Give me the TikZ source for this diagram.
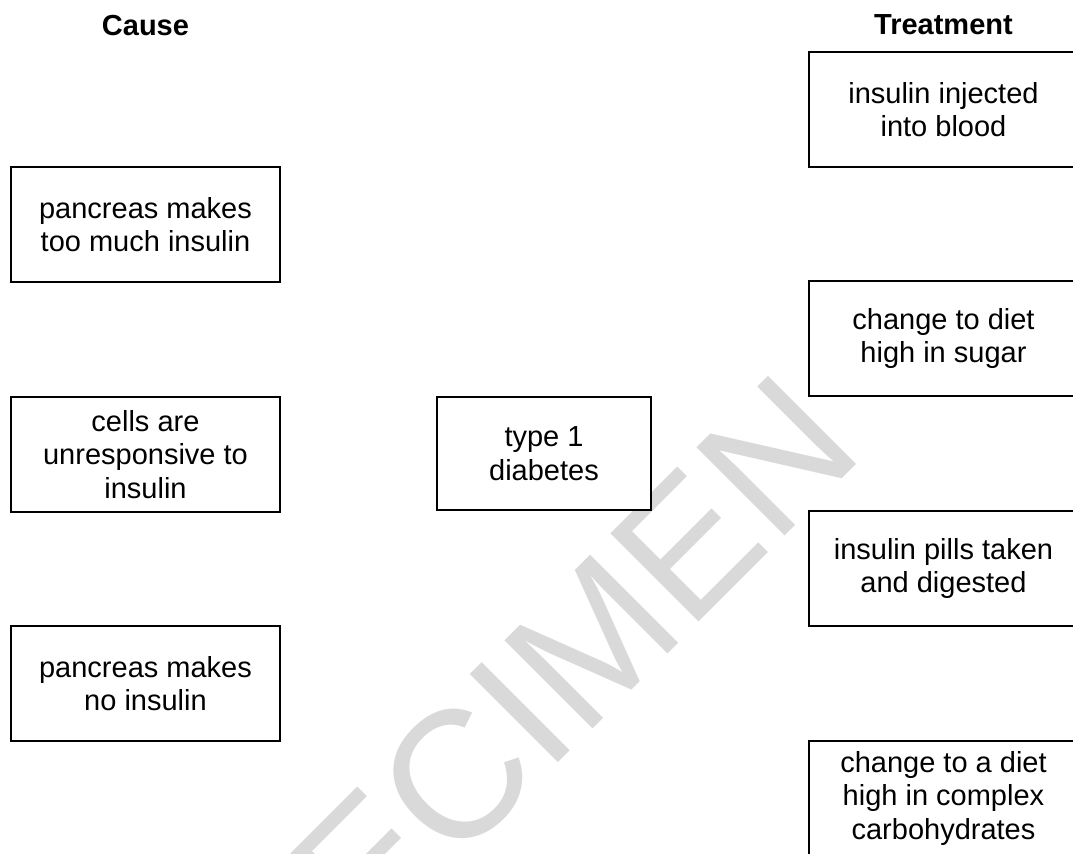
\documentclass[tikz,border=0pt]{standalone}
\usepackage{fontspec}
\setmainfont{Liberation Sans}
\usepackage{tikz}

\begin{document}
\begin{tikzpicture}[scale=1.0, font=\fontsize{12}{13.8}\selectfont,
    card/.style={draw, line width=1.1pt, fill=white, align=center,
      minimum width=3.912cm, minimum height=1.673cm, inner sep=0pt},
    heading/.style={font=\fontsize{12}{13.8}\selectfont\bfseries}]
    \path[use as bounding box, clip] (0,0) rectangle (15.606,12.406);
    % watermark
    \node[black!15, rotate=45, font=\fontsize{75}{75}\selectfont]
      (stamp) at (7.098,1.571) {SPECIMEN};
    \node[heading] (cause) at (2.116,12.042) {Cause};
    \node[heading] (treat) at (13.722,12.042) {Treatment};
    % causes
    \node[card] (tooMuch) at (2.116,9.141) {pancreas makes\\too much insulin};
    \node[card] (unresp)  at (2.116,5.796) {cells are\\unresponsive to\\insulin};
    \node[card] (noIns)   at (2.116,2.465) {pancreas makes\\no insulin};
    % disease
    \node[card, minimum width=3.112cm, minimum height=1.643cm]
      (type1) at (7.912,5.810) {type 1\\diabetes};
    % treatments
    \node[card] (injected)    at (13.722,10.814) {insulin injected\\into blood};
    \node[card] (sugarDiet)   at (13.722,7.483)  {change to diet\\high in sugar};
    \node[card] (pills)       at (13.722,4.138)  {insulin pills taken\\and digested};
    \node[card] (complexDiet) at (13.722,0.793)
      {change to a diet\\high in complex\\carbohydrates};
  \end{tikzpicture}
\end{document}
